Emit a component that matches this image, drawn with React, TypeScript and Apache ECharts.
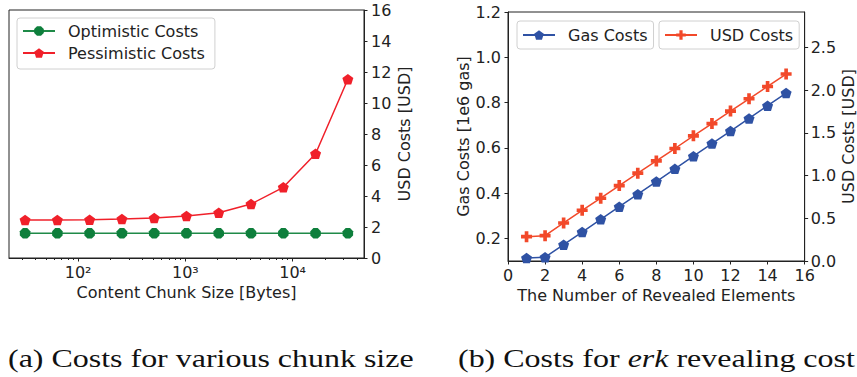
import React, { useEffect, useRef } from "react";
import * as echarts from "echarts";

// ---------- data: (a) costs for various chunk sizes ----------
const chunkSizes = [32, 64, 128, 256, 512, 1024, 2048, 4096, 8192, 16384, 32768];
const optimisticCosts = [1.59, 1.59, 1.59, 1.59, 1.59, 1.59, 1.59, 1.59, 1.59, 1.59, 1.59];
const pessimisticCosts = [2.45, 2.45, 2.47, 2.52, 2.58, 2.71, 2.92, 3.48, 4.56, 6.73, 11.53];
const chunkTickValues = [100, 1000, 10000];
const chunkTickLabels = ["10²", "10³", "10⁴"];
const chunkMinorTicks = [
  30, 40, 50, 60, 70, 80, 90,
  200, 300, 400, 500, 600, 700, 800, 900,
  2000, 3000, 4000, 5000, 6000, 7000, 8000, 9000,
  20000, 30000, 40000,
];
const chunkRange = [22.65, 46350];
const usdRangeA = [0, 16];

// ---------- data: (b) costs for erk revealing ----------
const revealedElements = [1, 2, 3, 4, 5, 6, 7, 8, 9, 10, 11, 12, 13, 14, 15];
const gasCosts = [0.113, 0.117, 0.172, 0.228, 0.284, 0.34, 0.395, 0.451, 0.507, 0.563, 0.619, 0.674, 0.73, 0.786, 0.842];
const usdCosts = [0.285, 0.297, 0.445, 0.594, 0.735, 0.883, 1.028, 1.172, 1.317, 1.465, 1.609, 1.755, 1.899, 2.043, 2.189];
const gasTicks = [0.2, 0.4, 0.6, 0.8, 1.0, 1.2];
const usdTicks = [0, 0.5, 1.0, 1.5, 2.0, 2.5];
const gasRange = [0.1, 1.2];
const usdRangeB = [0, 2.915];

const FONT = "DejaVu Sans";
const TXT = "#222";
const AX = "#222";

const PENTAGON = "path://M0,-1L0.951,-0.309L0.588,0.809L-0.588,0.809L-0.951,-0.309Z";
const OCTAGON =
  "path://M-0.383,-0.924L0.383,-0.924L0.924,-0.383L0.924,0.383L0.383,0.924L-0.383,0.924L-0.924,0.383L-0.924,-0.383Z";
const PLUS =
  "path://M-1,-0.333L-0.333,-0.333L-0.333,-1L0.333,-1L0.333,-0.333L1,-0.333L1,0.333L0.333,0.333L0.333,1L-0.333,1L-0.333,0.333L-1,0.333Z";

const lg = (v: number) => Math.log10(v);

const labelStyle = { fontFamily: FONT, fontSize: 16, color: TXT };
const nameStyle = { fontFamily: FONT, fontSize: 16, color: TXT };

export default function App() {
  const ref = useRef<HTMLDivElement>(null);

  useEffect(() => {
    if (!ref.current) return;
    const chart = echarts.init(ref.current, undefined, { renderer: "svg" });

    const legendCommon = {
      itemWidth: 32,
      itemHeight: 12,
      backgroundColor: "#fff",
      borderColor: "#d0d0d0",
      borderWidth: 1,
      borderRadius: 3,
      selectedMode: false,
      textStyle: { fontFamily: FONT, fontSize: 16, color: TXT, lineHeight: 16, padding: [0, 0, 0, 8] },
    };

    const option: any = {
      animation: false,
      backgroundColor: "#fff",
      grid: [
        { left: 9, top: 10, width: 355, height: 248, show: true, borderColor: AX, borderWidth: 1, backgroundColor: "transparent" },
        { left: 508, top: 12, width: 299, height: 249, show: true, borderColor: AX, borderWidth: 1, backgroundColor: "transparent" },
      ],
      xAxis: [
        {
          type: "value",
          gridIndex: 0,
          position: "bottom",
          min: lg(chunkRange[0]),
          max: lg(chunkRange[1]),
          axisLine: { show: true, lineStyle: { color: AX, width: 1 } },
          axisTick: { show: true, length: 3.5, lineStyle: { color: AX }, customValues: chunkTickValues.map(lg) },
          axisLabel: {
            ...labelStyle,
            margin: 6,
            customValues: chunkTickValues.map(lg),
            formatter: (v: number) => {
              const i = chunkTickValues.findIndex((t) => Math.abs(lg(t) - v) < 1e-6);
              return i >= 0 ? chunkTickLabels[i] : "";
            },
          },
          splitLine: { show: false },
          name: "Content Chunk Size [Bytes]",
          nameLocation: "middle",
          nameGap: 26,
          nameTextStyle: nameStyle,
        },
        {
          type: "value",
          gridIndex: 0,
          position: "bottom",
          min: lg(chunkRange[0]),
          max: lg(chunkRange[1]),
          axisLine: { show: false },
          axisTick: { show: true, length: 2, lineStyle: { color: AX }, customValues: chunkMinorTicks.map(lg) },
          axisLabel: { show: false },
          splitLine: { show: false },
        },
        {
          type: "value",
          gridIndex: 1,
          position: "bottom",
          min: 0,
          max: 16,
          interval: 2,
          axisLine: { show: true, lineStyle: { color: AX, width: 1 } },
          axisTick: { show: true, length: 3.5, lineStyle: { color: AX } },
          axisLabel: { ...labelStyle, margin: 6 },
          splitLine: { show: false },
          name: "The Number of Revealed Elements",
          nameLocation: "middle",
          nameGap: 25,
          nameTextStyle: nameStyle,
        },
      ],
      yAxis: [
        {
          type: "value",
          gridIndex: 0,
          position: "right",
          min: usdRangeA[0],
          max: usdRangeA[1],
          interval: 2,
          axisLine: { show: true, lineStyle: { color: AX, width: 1 } },
          axisTick: { show: true, length: 3.5, lineStyle: { color: AX } },
          axisLabel: { ...labelStyle, margin: 7 },
          splitLine: { show: false },
          name: "USD Costs [USD]",
          nameLocation: "middle",
          nameRotate: 90,
          nameGap: 32,
          nameTextStyle: nameStyle,
        },
        {
          type: "value",
          gridIndex: 1,
          position: "left",
          min: gasRange[0],
          max: gasRange[1],
          axisLine: { show: true, lineStyle: { color: AX, width: 1 } },
          axisTick: { show: true, length: 3.5, lineStyle: { color: AX }, customValues: gasTicks },
          axisLabel: { ...labelStyle, margin: 7, customValues: gasTicks, formatter: (v: number) => v.toFixed(1) },
          splitLine: { show: false },
          name: "Gas Costs [1e6 gas]",
          nameLocation: "middle",
          nameRotate: 90,
          nameGap: 36,
          nameTextStyle: nameStyle,
        },
        {
          type: "value",
          gridIndex: 1,
          position: "right",
          min: usdRangeB[0],
          max: usdRangeB[1],
          axisLine: { show: true, lineStyle: { color: AX, width: 1 } },
          axisTick: { show: true, length: 3.5, lineStyle: { color: AX }, customValues: usdTicks },
          axisLabel: { ...labelStyle, margin: 6, customValues: usdTicks, formatter: (v: number) => v.toFixed(1) },
          splitLine: { show: false },
          name: "USD Costs [USD]",
          nameLocation: "middle",
          nameRotate: 90,
          nameGap: 35,
          nameTextStyle: nameStyle,
        },
      ],
      legend: [
        {
          ...legendCommon,
          data: ["Optimistic Costs", "Pessimistic Costs"],
          orient: "vertical",
          left: 17,
          top: 18,
          itemGap: 6,
          padding: [5, 10, 8, 5],
        },
        {
          ...legendCommon,
          data: ["Gas Costs"],
          left: 517,
          top: 21,
          padding: [6, 6, 6, 5],
        },
        {
          ...legendCommon,
          data: ["USD Costs"],
          left: 659,
          top: 21,
          padding: [6, 6, 6, 5],
        },
      ],
      series: [
        {
          name: "Optimistic Costs",
          type: "line",
          xAxisIndex: 0,
          yAxisIndex: 0,
          data: chunkSizes.map((s, i) => [lg(s), optimisticCosts[i]]),
          symbol: OCTAGON,
          symbolSize: 10.5,
          color: "#0e7f3c",
          lineStyle: { width: 1.5, color: "#1f8a48" },
          itemStyle: { color: "#0e7f3c" },
          z: 3,
        },
        {
          name: "Pessimistic Costs",
          type: "line",
          xAxisIndex: 0,
          yAxisIndex: 0,
          data: chunkSizes.map((s, i) => [lg(s), pessimisticCosts[i]]),
          symbol: PENTAGON,
          symbolSize: [11, 10.5],
          color: "#f0202a",
          lineStyle: { width: 1.5, color: "#f0202a" },
          itemStyle: { color: "#f0202a" },
          z: 4,
        },
        {
          name: "Gas Costs",
          type: "line",
          xAxisIndex: 2,
          yAxisIndex: 1,
          data: revealedElements.map((n, i) => [n, gasCosts[i]]),
          symbol: PENTAGON,
          symbolSize: [11, 10.5],
          color: "#2f52a4",
          lineStyle: { width: 1.5, color: "#2f52a4" },
          itemStyle: { color: "#2f52a4" },
          z: 3,
        },
        {
          name: "USD Costs",
          type: "line",
          xAxisIndex: 2,
          yAxisIndex: 2,
          data: revealedElements.map((n, i) => [n, usdCosts[i]]),
          symbol: PLUS,
          symbolSize: 11,
          color: "#f2492a",
          lineStyle: { width: 1.5, color: "#f2492a" },
          itemStyle: { color: "#f2492a" },
          z: 4,
        },
      ],
      graphic: [
        {
          type: "text",
          x: 8,
          y: 358,
          scaleX: 1.23,
          style: {
            text: "(a) Costs for various chunk size",
            fontFamily: "Liberation Serif",
            fontSize: 26,
            fill: "#111",
            verticalAlign: "middle",
          },
        },
        {
          type: "text",
          x: 458,
          y: 358,
          scaleX: 1.23,
          style: {
            text: "{n|(b) Costs for }{i|erk}{n| revealing cost}",
            fontFamily: "Liberation Serif",
            fontSize: 26,
            fill: "#111",
            verticalAlign: "middle",
            rich: {
              n: { fontFamily: "Liberation Serif", fontSize: 26, color: "#111" },
              i: { fontFamily: "Liberation Serif", fontSize: 26, fontStyle: "italic", color: "#111" },
            },
          },
        },
      ],
    };

    chart.setOption(option);
    return () => chart.dispose();
  }, []);

  return (
    <div
      ref={ref}
      style={{ position: "fixed", left: 0, top: 0, width: 857, height: 377, background: "#fff" }}
    />
  );
}
